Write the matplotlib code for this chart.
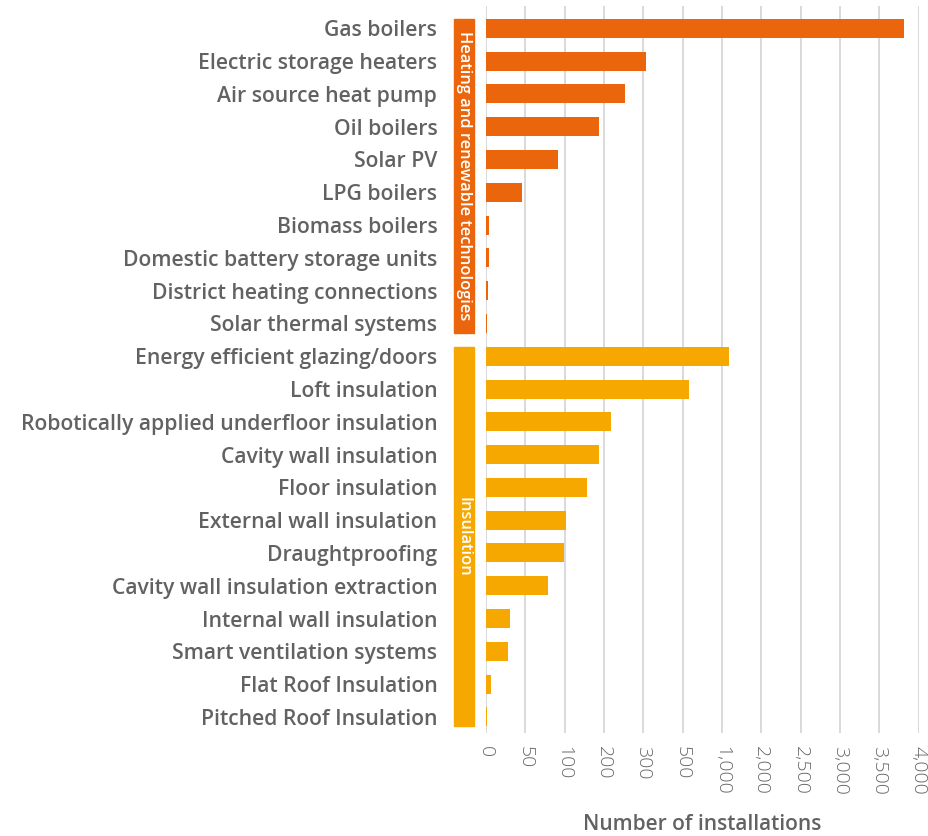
import numpy as np
import matplotlib
matplotlib.use("Agg")
import matplotlib.pyplot as plt
from matplotlib.patches import Rectangle
import matplotlib.transforms as mtransforms

# installations by measure, top to bottom
heating_labels = ["Gas boilers", "Electric storage heaters", "Air source heat pump",
                  "Oil boilers", "Solar PV", "LPG boilers", "Biomass boilers",
                  "Domestic battery storage units", "District heating connections",
                  "Solar thermal systems"]
heating_vals = [3810, 314, 253, 187, 92, 46, 4, 4, 2, 1]

insul_labels = ["Energy efficient glazing/doors", "Loft insulation",
                "Robotically applied underfloor insulation", "Cavity wall insulation",
                "Floor insulation", "External wall insulation", "Draughtproofing",
                "Cavity wall insulation extraction", "Internal wall insulation",
                "Smart ventilation systems", "Flat Roof Insulation",
                "Pitched Roof Insulation"]
insul_vals = [1178, 581, 218, 187, 157, 104, 99, 79, 30, 28, 6, 1]

# uneven axis: each tick is one equal step
xticks = [0, 50, 100, 200, 300, 500, 1000, 2000, 2500, 3000, 3500, 4000]

ORANGE = "#EA650B"
AMBER = "#F6A800"
GREY = "#626262"

plt.rcParams['font.family'] = ['Open Sans', 'DejaVu Sans']

steps = np.arange(len(xticks))
def fwd(x):
    return np.interp(x, xticks, steps)
def inv(s):
    return np.interp(s, steps, xticks)

fig = plt.figure(figsize=(9.29, 8.36), dpi=100)
ax = fig.add_axes([0.5231, 0.1232, 0.4658, 0.8696])
ax.set_xscale('function', functions=(fwd, inv))

labels = heating_labels + insul_labels
vals = heating_vals + insul_vals
colors = [ORANGE] * len(heating_vals) + [AMBER] * len(insul_vals)
y = np.arange(len(labels))
bar_h = 0.58

ax.barh(y, vals, height=bar_h, color=colors, zorder=3)

ax.set_xlim(0, 4000)
ax.set_ylim(len(labels) - 0.51, -0.68)
ax.set_xticks(xticks)
ax.set_xticklabels([f"{v:,}" for v in xticks], rotation=270, va='top', ha='center',
                   fontsize=14, color="#686868", fontweight='light')
ax.set_yticks(y)
ax.set_yticklabels(labels, fontsize=15.2, color=GREY, fontweight='semibold')
ax.tick_params(axis='x', length=0, pad=9)
ax.tick_params(axis='y', length=0, pad=35)
ax.xaxis.grid(True, color="#d9d9d9", linewidth=1.4, zorder=0)
ax.set_axisbelow(True)
for s in ax.spines.values():
    s.set_visible(False)
ax.set_xlabel("Number of installations", fontsize=15, color=GREY,
              fontweight='semibold', labelpad=14)

# group bands to the left of the bars
trans = mtransforms.blended_transform_factory(ax.transAxes, ax.transData)
bx, bw = -0.074, 0.046
groups = [(0, len(heating_vals) - 1, ORANGE, "Heating and renewable technologies"),
          (len(heating_vals), len(labels) - 1, AMBER, "Insulation")]
for first, last, col, name in groups:
    top = first - bar_h / 2
    bottom = last + bar_h / 2
    ax.add_patch(Rectangle((bx, top), bw, bottom - top, transform=trans,
                           color=col, clip_on=False, zorder=3))
    ax.text(bx + bw / 2, (top + bottom) / 2, name, transform=trans, rotation=270,
            ha='center', va='center', color='white', fontsize=11.8,
            fontweight='semibold', zorder=4)

fig.savefig("out.png", dpi=100)
